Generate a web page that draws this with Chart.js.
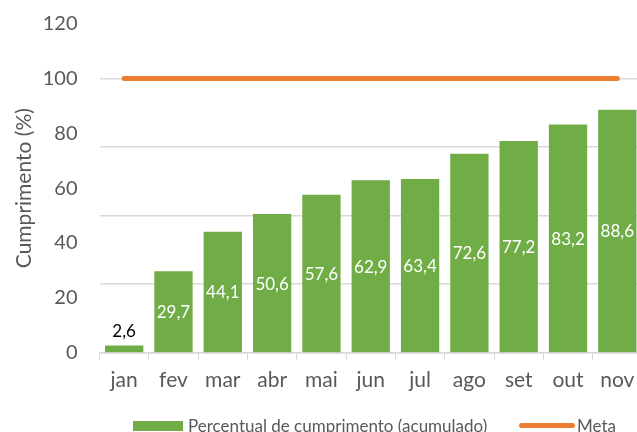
<!DOCTYPE html>
<html>
<head>
<meta charset="utf-8">
<script src="https://cdn.jsdelivr.net/npm/chart.js@4"></script>
<style>
  html, body { margin: 0; padding: 0; background: #fff; overflow: hidden; }
  #wrap { position: relative; width: 645px; height: 432px; }
  #legend { position: absolute; top: 416px; left: 0; width: 645px; height: 20px; font-family: Lato, sans-serif; font-size: 17px; line-height: 20px; color: #595959; }
  .lg { position: absolute; top: 0; height: 20px; display: flex; align-items: center; white-space: nowrap; }
  .box { display: inline-block; width: 50px; height: 10px; background: #70AD47; margin-right: 5px; }
  .ln { display: inline-block; width: 56px; height: 5px; border-radius: 3px; background: #ED7D31; margin-right: 2px; position: relative; top: -1px; }
</style>
</head>
<body>
<div id="wrap">
  <canvas id="c" width="645" height="432" style="width:645px;height:432px"></canvas>
  <div id="legend">
    <div class="lg" style="left:133px;"><span class="box"></span><span id="lg1"></span></div>
    <div class="lg" style="left:519px;"><span class="ln"></span><span id="lg2"></span></div>
  </div>
</div>
<script>
const categories = ['jan', 'fev', 'mar', 'abr', 'mai', 'jun', 'jul', 'ago', 'set', 'out', 'nov'];
const percentual = [2.6, 29.7, 44.1, 50.6, 57.6, 62.9, 63.4, 72.6, 77.2, 83.2, 88.6];
const meta = [100, 100, 100, 100, 100, 100, 100, 100, 100, 100, 100];
const yTicks = [0, 20, 40, 60, 80, 100, 120];
const gridValues = [0, 25, 50, 75, 100];
const seriesNames = ['Percentual de cumprimento (acumulado)', 'Meta'];
const yTitle = 'Cumprimento (%)';

document.getElementById('lg1').textContent = seriesNames[0];
document.getElementById('lg2').textContent = seriesNames[1];

const labelPlugin = {
  id: 'barLabels',
  afterDatasetsDraw(chart) {
    const ctx = chart.ctx;
    const m = chart.getDatasetMeta(1);
    ctx.save();
    ctx.font = '17px Lato, sans-serif';
    ctx.textAlign = 'center';
    ctx.textBaseline = 'middle';
    m.data.forEach((bar, i) => {
      const v = percentual[i];
      const text = v.toFixed(1).replace('.', ',');
      const h = bar.base - bar.y;
      if (h < 22) {
        ctx.fillStyle = '#000000';
        ctx.fillText(text, bar.x, bar.y - 14);
      } else {
        ctx.fillStyle = '#FFFFFF';
        ctx.fillText(text, bar.x, (bar.y + bar.base) / 2 + 1);
      }
    });
    ctx.restore();
  }
};

new Chart(document.getElementById('c'), {
  type: 'bar',
  data: {
    labels: categories,
    datasets: [
      {
        type: 'line',
        label: seriesNames[1],
        data: meta,
        borderColor: '#ED7D31',
        backgroundColor: '#ED7D31',
        borderWidth: 5,
        borderCapStyle: 'round',
        pointRadius: 0,
        fill: false,
        yAxisID: 'y',
        order: 0
      },
      {
        type: 'bar',
        label: seriesNames[0],
        data: percentual,
        backgroundColor: '#70AD47',
        categoryPercentage: 1,
        barPercentage: 0.777,
        yAxisID: 'y',
        order: 1
      }
    ]
  },
  options: {
    responsive: false,
    animation: false,
    devicePixelRatio: 1,
    layout: { padding: { top: 23.7, right: 3, left: 0, bottom: 0 } },
    plugins: {
      legend: { display: false },
      tooltip: { enabled: false }
    },
    scales: {
      x: {
        offset: true,
        grid: {
          offset: true,
          drawOnChartArea: false,
          drawTicks: true,
          tickLength: 7,
          color: '#D9D9D9'
        },
        border: { display: true, color: '#D9D9D9', width: 1.5 },
        ticks: {
          color: '#595959',
          font: { family: 'Lato, sans-serif', size: 21 },
          padding: 8,
          maxRotation: 0,
          autoSkip: false
        },
        afterFit(scale) { scale.height = 79.3; }
      },
      y: {
        position: 'left',
        min: 0,
        max: 120,
        afterBuildTicks(axis) { axis.ticks = yTicks.map(v => ({ value: v })); },
        grid: { display: true, drawOnChartArea: false, drawTicks: true, tickLength: 22, tickColor: 'rgba(0,0,0,0)', color: 'rgba(0,0,0,0)' },
        border: { display: false },
        ticks: {
          color: '#595959',
          font: { family: 'Lato, sans-serif', size: 20 },
          padding: 0
        },
        title: {
          display: true,
          text: yTitle,
          color: '#595959',
          font: { family: 'Lato, sans-serif', size: 21 },
          padding: { top: 12, bottom: 0 }
        },
        afterFit(scale) { scale.width = 99.5; }
      },
      yGrid: {
        position: 'left',
        min: 0,
        max: 120,
        afterBuildTicks(axis) { axis.ticks = gridValues.map(v => ({ value: v })); },
        grid: { display: true, drawTicks: false, color: '#D9D9D9', lineWidth: 1.5 },
        border: { display: false },
        ticks: { display: false, padding: 0 },
        afterFit(scale) { scale.width = 0; }
      }
    }
  },
  plugins: [labelPlugin]
});
</script>
</body>
</html>
